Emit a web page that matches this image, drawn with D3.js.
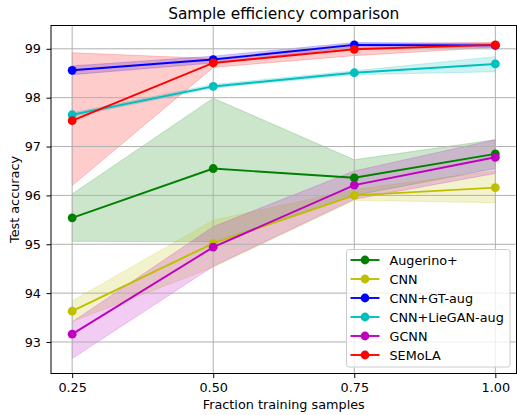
<!DOCTYPE html>
<html>
<head>
<meta charset="utf-8">
<script src="https://cdn.jsdelivr.net/npm/d3@7"></script>
<style>
  html, body { margin: 0; padding: 0; background: #fff; }
  svg text { font-family: "DejaVu Sans", sans-serif; }
</style>
</head>
<body>
<svg id="chart" width="517" height="415"></svg>
<script>
// Fractions of the training set used
const fractions = [0.25, 0.50, 0.75, 1.00];
const xTicks = [0.25, 0.50, 0.75, 1.00];
const yTicks = [93, 94, 95, 96, 97, 98, 99];

const seriesNames = ["Augerino+", "CNN", "CNN+GT-aug", "CNN+LieGAN-aug", "GCNN", "SEMoLA"];
const seriesColors = ["#008000", "#bfbf00", "#0000ff", "#00bfbf", "#bf00bf", "#ff0000"];

// Mean test accuracy per series
const augerinoMean = [95.54, 96.55, 96.36, 96.85];
const cnnMean      = [93.63, 95.02, 96.00, 96.16];
const gtAugMean    = [98.56, 98.78, 99.08, 99.07];
const lieganMean   = [97.65, 98.23, 98.51, 98.69];
const gcnnMean     = [93.16, 94.94, 96.21, 96.78];
const semolaMean   = [97.53, 98.71, 98.99, 99.08];

// Lower / upper edge of the spread band per series
const augerinoLow  = [95.06, 95.05, 96.00, 96.55];
const augerinoHigh = [96.03, 97.99, 96.73, 97.14];
const cnnLow       = [93.42, 94.53, 95.90, 95.85];
const cnnHigh      = [93.84, 95.49, 96.12, 96.50];
const gtAugLow     = [98.47, 98.71, 99.03, 99.03];
const gtAugHigh    = [98.65, 98.85, 99.13, 99.11];
const lieganLow    = [97.61, 98.20, 98.47, 98.53];
const lieganHigh   = [97.69, 98.27, 98.55, 98.84];
const gcnnLow      = [92.66, 94.55, 95.92, 96.45];
const gcnnHigh     = [93.41, 95.36, 96.50, 97.14];
const semolaLow    = [96.20, 98.62, 98.86, 99.03];
const semolaHigh   = [98.92, 98.80, 99.10, 99.13];

const means = [augerinoMean, cnnMean, gtAugMean, lieganMean, gcnnMean, semolaMean];
const lows  = [augerinoLow, cnnLow, gtAugLow, lieganLow, gcnnLow, semolaLow];
const highs = [augerinoHigh, cnnHigh, gtAugHigh, lieganHigh, gcnnHigh, semolaHigh];

const svg = d3.select("#chart");
const W = 517, H = 415;
const margin = { left: 51, right: 0.5, top: 25.5, bottom: 41.5 };
const plotW = W - margin.left - margin.right;
const plotH = H - margin.top - margin.bottom;

const x = d3.scaleLinear().domain([0.2125, 1.0375]).range([margin.left, margin.left + plotW]);
const y = d3.scaleLinear().domain([92.355, 99.477]).range([margin.top + plotH, margin.top]);

// Spread bands (drawn underneath everything else)
const area = d3.area()
  .x((d, i) => x(fractions[i]))
  .y0(d => y(d[0])).y1(d => y(d[1]));
const bands = svg.append("g");
seriesNames.forEach((name, s) => {
  const pts = fractions.map((f, i) => [lows[s][i], highs[s][i]]);
  bands.append("path").datum(pts)
    .attr("d", area)
    .attr("fill", seriesColors[s]).attr("fill-opacity", 0.2)
    .attr("stroke", seriesColors[s]).attr("stroke-opacity", 0.2).attr("stroke-width", 1);
});

// Grid
const grid = svg.append("g");
grid.selectAll("line.gx").data(xTicks).join("line")
  .attr("x1", d => x(d)).attr("x2", d => x(d))
  .attr("y1", margin.top).attr("y2", margin.top + plotH)
  .attr("stroke", "#b0b0b0").attr("stroke-width", 1);
grid.selectAll("line.gy").data(yTicks).join("line")
  .attr("x1", margin.left).attr("x2", margin.left + plotW)
  .attr("y1", d => y(d)).attr("y2", d => y(d))
  .attr("stroke", "#b0b0b0").attr("stroke-width", 1);

// Lines and markers
const line = d3.line().x((d, i) => x(fractions[i])).y(d => y(d));
const lines = svg.append("g");
seriesNames.forEach((name, s) => {
  const g = lines.append("g");
  g.append("path").datum(means[s])
    .attr("d", line).attr("fill", "none")
    .attr("stroke", seriesColors[s]).attr("stroke-width", 1.9);
  g.selectAll("circle").data(means[s]).join("circle")
    .attr("cx", (d, i) => x(fractions[i])).attr("cy", d => y(d))
    .attr("r", 4.4).attr("fill", seriesColors[s]);
});

// Frame
svg.append("rect")
  .attr("x", margin.left).attr("y", margin.top)
  .attr("width", plotW).attr("height", plotH)
  .attr("fill", "none").attr("stroke", "#000").attr("stroke-width", 1);

// Axes
const xAxis = svg.append("g").attr("transform", `translate(0,${margin.top + plotH})`)
  .call(d3.axisBottom(x).tickValues(xTicks).tickFormat(d3.format(".2f")).tickSize(4.5).tickPadding(5));
const yAxis = svg.append("g").attr("transform", `translate(${margin.left},0)`)
  .call(d3.axisLeft(y).tickValues(yTicks).tickFormat(d3.format("d")).tickSize(4.5).tickPadding(5.5));
[xAxis, yAxis].forEach(a => {
  a.select(".domain").remove();
  a.selectAll("text").attr("font-size", 12.8).attr("fill", "#000")
    .attr("font-family", "DejaVu Sans, sans-serif");
  a.selectAll("line").attr("stroke", "#000").attr("stroke-width", 1);
});

// Titles
svg.append("text").attr("x", margin.left + plotW / 2).attr("y", 18.5)
  .attr("text-anchor", "middle").attr("font-size", 15.4).text("Sample efficiency comparison");
svg.append("text").attr("x", margin.left + plotW / 2).attr("y", 408.5)
  .attr("text-anchor", "middle").attr("font-size", 12.8).text("Fraction training samples");
svg.append("text").attr("transform", `translate(19,${margin.top + plotH / 2}) rotate(-90)`)
  .attr("text-anchor", "middle").attr("font-size", 12.8).text("Test accuracy");

// Legend
const lg = svg.append("g").attr("transform", "translate(346.5,249.5)");
lg.append("rect").attr("width", 163.5).attr("height", 117.5).attr("rx", 2.5)
  .attr("fill", "#fff").attr("fill-opacity", 0.8).attr("stroke", "#cccccc").attr("stroke-width", 1);
seriesNames.forEach((name, s) => {
  const yy = 10.5 + s * 19;
  lg.append("line").attr("x1", 4).attr("x2", 33).attr("y1", yy).attr("y2", yy)
    .attr("stroke", seriesColors[s]).attr("stroke-width", 1.9);
  lg.append("circle").attr("cx", 18.5).attr("cy", yy).attr("r", 4.4).attr("fill", seriesColors[s]);
  lg.append("text").attr("x", 43).attr("y", yy).attr("dy", "0.36em")
    .attr("font-size", 12.8).text(name);
});
</script>
</body>
</html>
